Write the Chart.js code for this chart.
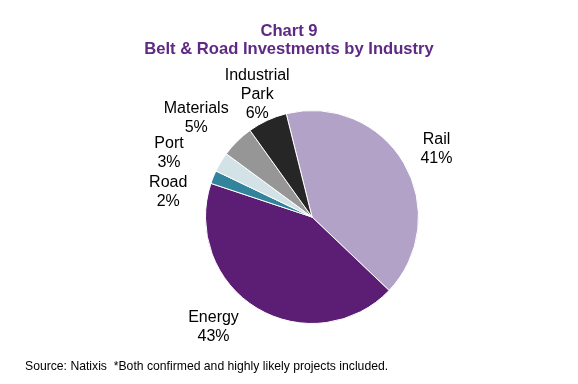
<!DOCTYPE html>
<html>
<head>
<meta charset="utf-8">
<script src="https://cdn.jsdelivr.net/npm/chart.js@4/dist/chart.umd.min.js"></script>
<style>
  html, body { margin: 0; padding: 0; background: #fff; }
  #wrap { width: 578px; height: 384px; position: relative; }
</style>
</head>
<body>
<div id="wrap"><canvas id="pie-chart"></canvas></div>
<script>
// data
const industries = ["Rail", "Energy", "Road", "Port", "Materials", "Industrial Park"];
const shares = [41, 43, 2, 3, 5, 6];
const labelLines = [["Rail", "41%"], ["Energy", "43%"], ["Road", "2%"], ["Port", "3%"], ["Materials", "5%"], ["Industrial", "Park", "6%"]];
const titleLines = ["Chart 9", "Belt & Road Investments by Industry"];
const sourceNote = "Source: Natixis  *Both confirmed and highly likely projects included.";

const sliceColors = ["#B3A2C7", "#5C1E74", "#31849B", "#D2E2E6", "#969696", "#262626"];
const fontFamily = "'Liberation Sans', Arial, sans-serif";

// where each outside label sits: angle from top (deg) and distance as a share of the radius
const labelPlacement = [
    { angle: 61.5, dist: 1.33 },
    { angle: 221.7, dist: 1.39 },
    { angle: 279.8, dist: 1.37 },
    { angle: 294.0, dist: 1.47 },
    { angle: 310.5, dist: 1.43 },
    { angle: 335.9, dist: 1.26 }
];

// title, slice labels and the source line
const chartText = {
    id: "chartText",
    afterDraw(chart) {
        const ctx = chart.ctx;
        const arcs = chart.getDatasetMeta(0).data;
        ctx.save();

        ctx.fillStyle = "#5E2A84";
        ctx.font = "bold 16.6px " + fontFamily;
        ctx.textAlign = "center";
        ctx.textBaseline = "alphabetic";
        ctx.fillText(titleLines[0], chart.width / 2, 36);
        ctx.fillText(titleLines[1], chart.width / 2, 54);

        ctx.fillStyle = "#000";
        ctx.font = "16px " + fontFamily;
        ctx.textBaseline = "middle";
        arcs.forEach((arc, i) => {
            const p = labelPlacement[i];
            const a = p.angle * Math.PI / 180;
            const cx = arc.x + Math.sin(a) * arc.outerRadius * p.dist;
            const cy = arc.y - Math.cos(a) * arc.outerRadius * p.dist;
            const lines = labelLines[i];
            const lh = 19;
            lines.forEach((t, j) => {
                ctx.fillText(t, cx, cy + (j - (lines.length - 1) / 2) * lh);
            });
        });

        ctx.font = "12.2px " + fontFamily;
        ctx.textAlign = "left";
        ctx.textBaseline = "alphabetic";
        ctx.fillText(sourceNote, 25, 370);
        ctx.restore();
    }
};

const pieChart = new Chart(document.getElementById("pie-chart"), {
    type: "pie",
    data: {
        labels: industries,
        datasets: [{
            data: shares,
            backgroundColor: sliceColors,
            borderColor: "#fff",
            borderWidth: 1
        }]
    },
    options: {
        responsive: true,
        maintainAspectRatio: false,
        animation: false,
        rotation: -14,
        layout: { padding: { left: 205, right: 159, top: 110, bottom: 60 } },
        plugins: {
            legend: { display: false },
            tooltip: { enabled: false },
            title: { display: false }
        }
    },
    plugins: [chartText]
});
</script>
</body>
</html>
